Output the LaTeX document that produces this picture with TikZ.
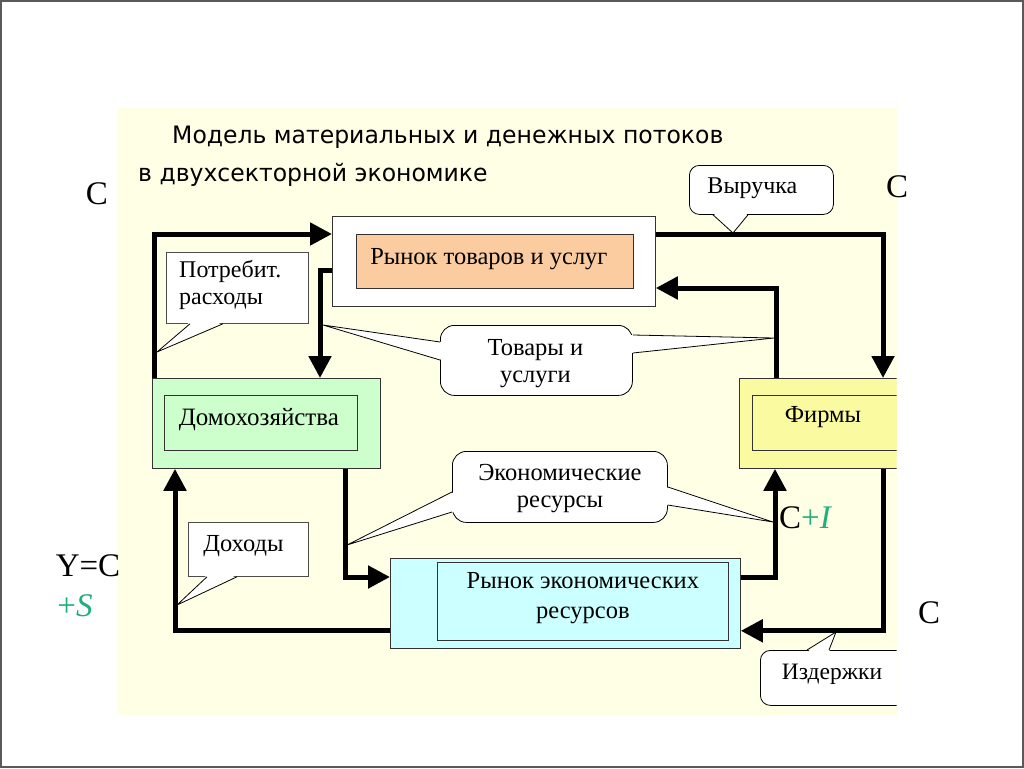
\documentclass[tikz,border=0pt]{standalone}
\usepackage{fontspec}
\setmainfont{Liberation Serif}
\newfontfamily\titlefont[FakeStretch=0.98]{DejaVu Sans}
\usetikzlibrary{arrows.meta,calc}
\definecolor{panelc}{RGB}{255,255,230}
\definecolor{peach}{RGB}{251,204,160}
\definecolor{hhgreen}{RGB}{204,255,204}
\definecolor{firmy}{RGB}{250,250,160}
\definecolor{rescyan}{RGB}{204,255,255}
\definecolor{tealc}{RGB}{30,175,125}
\definecolor{framec}{RGB}{90,90,90}
\tikzset{
  boxout/.style={draw=black!80, line width=0.8pt, inner sep=0pt, anchor=north west},
  boxin/.style={draw=black!80, line width=0.8pt, inner sep=0pt, anchor=north west},
  btext/.style={font=\fontsize{24.5}{28}\selectfont, align=center, inner sep=0pt},
  flow/.style={line width=5pt, line join=miter, -{Triangle[length=22pt,width=22pt]}},
  callr/.style={draw=black, line width=0.8pt, fill=white, rounded corners=12pt, inner sep=0pt, anchor=north west, align=center},
  calls/.style={draw=black!70, line width=0.8pt, fill=white, inner sep=0pt, anchor=north west, align=center},
  ptr/.style={draw=black, line width=0.8pt},
  biglab/.style={font=\fontsize{33}{38}\selectfont, inner sep=0pt}
}
\begin{document}
\begin{tikzpicture}[x=1pt,y=-1pt]
\useasboundingbox (0,0) rectangle (1024,768);
\fill[white] (0,0) rectangle (1024,768);
\draw[framec, line width=1.5pt] (1,1) rectangle (1023,767);
% panel
\fill[panelc] (117,108) rectangle (897,715);
% title
\node[anchor=base west, inner sep=0pt, font=\titlefont\fontsize{24}{28}\selectfont] (t1) at (172,143) {Модель материальных и денежных потоков};
\node[anchor=base west, inner sep=0pt, font=\titlefont\fontsize{24}{28}\selectfont] (t2) at (138,181) {в двухсекторной экономике};

% goods market
\node[boxout, fill=white, minimum width=323pt, minimum height=90pt] (gm) at (332,216) {};
\node[boxin, fill=peach, minimum width=277pt, minimum height=54pt] (gmi) at (356,234) {};
\node[btext] (gmt) at ($(gmi.center)+(-6,-2)$) {Рынок товаров и услуг};
% households
\node[boxout, fill=hhgreen, minimum width=228pt, minimum height=90pt] (hh) at (152,378) {};
\node[boxin, fill=hhgreen, minimum width=193pt, minimum height=55pt] (hhi) at (164,395) {};
\node[btext, font=\fontsize{25}{29}\selectfont] (hht) at ($(hhi.center)+(-2,-3)$) {Домохозяйства};
% resources market
\node[boxout, fill=rescyan, minimum width=350pt, minimum height=90pt] (rm) at (390,558) {};
\node[boxin, fill=rescyan, minimum width=291pt, minimum height=78pt] (rmi) at (437,562) {};
\node[btext, font=\fontsize{24.5}{30}\selectfont] (rmt) at ($(rmi.center)+(0,-3)$) {Рынок экономических\\ресурсов};
% firms (clipped at panel edge)
\begin{scope}
\clip (0,0) rectangle (896.5,768);
\node[boxout, fill=firmy, minimum width=170pt, minimum height=90pt] (fi) at (739,378) {};
\node[boxin, fill=firmy, minimum width=160pt, minimum height=55pt] (fii) at (752,395) {};
\end{scope}
\node[btext] (fit) at (823,417) {Фирмы};

% flows
\draw[flow] ($(hh.north west)+(2,0)$) |- ($(gm.north west)+(0,18)$);
\draw[flow] ($(gm.north west)+(0,54)$) -| ($(hh.north west)+(168,0)$);
\draw[flow] ($(gm.north east)+(0,18)$) -| ($(fi.north west)+(144,0)$);
\draw[flow] ($(fi.north west)+(37,0)$) |- ($(gm.north east)+(0,72)$);
\draw[flow] ($(hh.south west)+(193,0)$) |- ($(rm.north west)+(0,19)$);
\draw[flow] ($(rm.north east)+(0,19)$) -| ($(fi.south west)+(36,0)$);
\draw[flow] ($(fi.south west)+(144,0)$) |- ($(rm.south east)+(0,-18)$);
\draw[flow] ($(rm.south west)+(0,-18)$) -| ($(hh.south west)+(23,0)$);

% callout: Vyruchka
\node[callr, rounded corners=10pt, minimum width=144pt, minimum height=49pt] (vy) at (689,165) {};
\node[btext, font=\fontsize{24}{28}\selectfont] (vyt) at ($(vy.center)+(-9,-2)$) {Выручка};
\coordinate (vyp) at (733,233);
\fill[white] ($(vy.south west)+(24,-2)$) -- (vyp) -- ($(vy.south west)+(59,-2)$) -- cycle;
\draw[ptr] ($(vy.south west)+(24,0)$) -- (vyp) -- ($(vy.south west)+(59,0)$);

% callout: Potrebit. raskhody
\node[calls, minimum width=142pt, minimum height=71pt] (pr) at (166,252) {};
\node[anchor=north west, inner sep=0pt, align=left, font=\fontsize{24}{27}\selectfont] (prt) at (179,260) {Потребит.\\расходы};
\coordinate (prp) at (157,352);
\fill[white] ($(pr.south west)+(24,-2)$) -- (prp) -- ($(pr.south west)+(57,-2)$) -- cycle;
\draw[ptr] ($(pr.south west)+(24,0)$) -- (prp) -- ($(pr.south west)+(57,0)$);

% callout: Tovary i uslugi
\node[callr, rounded corners=14pt, minimum width=192pt, minimum height=70pt] (tu) at (440,325) {};
\node[btext, font=\fontsize{24.5}{27}\selectfont] (tut) at ($(tu.center)+(-1,3)$) {Товары и\\услуги};
\coordinate (tul) at (323,325);
\coordinate (tur) at (774,338);
\fill[white] ($(tu.north west)+(2,17)$) -- (tul) -- ($(tu.north west)+(2,35)$) -- cycle;
\draw[ptr] ($(tu.north west)+(0,17)$) -- (tul) -- ($(tu.north west)+(0,35)$);
\fill[white] ($(tu.north east)+(-2,10)$) -- (tur) -- ($(tu.north east)+(-2,28)$) -- cycle;
\draw[ptr] ($(tu.north east)+(0,10)$) -- (tur) -- ($(tu.north east)+(0,28)$);

% callout: Ekonomicheskie resursy
\node[callr, rounded corners=14pt, minimum width=215pt, minimum height=71pt] (er) at (452,451) {};
\node[btext, font=\fontsize{24.5}{27}\selectfont] (ert) at ($(er.center)+(0,2)$) {Экономические\\ресурсы};
\coordinate (erl) at (347,545);
\coordinate (err) at (773,522);
\fill[white] ($(er.north west)+(2,41)$) -- (erl) -- ($(er.north west)+(2,61)$) -- cycle;
\draw[ptr] ($(er.north west)+(0,41)$) -- (erl) -- ($(er.north west)+(0,61)$);
\fill[white] ($(er.north east)+(-2,36)$) -- (err) -- ($(er.north east)+(-2,54)$) -- cycle;
\draw[ptr] ($(er.north east)+(0,36)$) -- (err) -- ($(er.north east)+(0,54)$);

% callout: Dokhody
\node[calls, minimum width=120pt, minimum height=54pt] (dh) at (188,522) {};
\node[btext] (dht) at ($(dh.center)+(-5,-3)$) {Доходы};
\coordinate (dhp) at (177,605);
\fill[white] ($(dh.south west)+(19,-2)$) -- (dhp) -- ($(dh.south west)+(49,-2)$) -- cycle;
\draw[ptr] ($(dh.south west)+(19,0)$) -- (dhp) -- ($(dh.south west)+(49,0)$);

% callout: Izderzhki (clipped)
\begin{scope}
\clip (0,0) rectangle (896.5,768);
\node[callr, rounded corners=10pt, minimum width=160pt, minimum height=55pt] (iz) at (760,650) {};
\coordinate (izp) at (836,632);
\fill[white] ($(iz.north west)+(47,2)$) -- (izp) -- ($(iz.north west)+(69,2)$) -- cycle;
\draw[ptr] ($(iz.north west)+(47,0)$) -- (izp) -- ($(iz.north west)+(69,0)$);
\end{scope}
\node[btext, font=\fontsize{23.5}{27}\selectfont] (izt) at (832,674) {Издержки};

% outer labels
\node[biglab] (c1) at (97,194) {C};
\node[biglab] (c2) at (897,187) {C};
\node[biglab] (yc) at (88,566) {Y=C};
\node[biglab, text=tealc] (ps) at (75,606) {+\textit{S}};
\node[biglab, anchor=west] (ci) at (779,518) {C\textcolor{tealc}{+\textit{I}}};
\node[biglab] (c3) at (929,613) {C};
\end{tikzpicture}
\end{document}
